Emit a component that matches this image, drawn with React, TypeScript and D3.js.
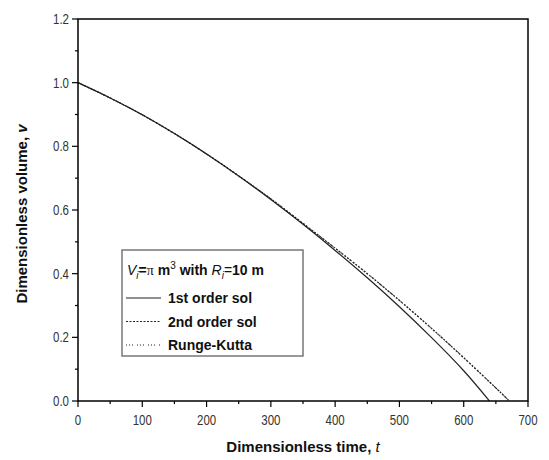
import React from "react";
import * as d3 from "d3";

const WIDTH = 549;
const HEIGHT = 460;

// values
const timeFirst = [0, 50, 100, 150, 200, 250, 300, 350, 400, 450, 500, 550, 600, 640];
const volFirst = [1.0, 0.952, 0.899, 0.84, 0.776, 0.707, 0.633, 0.555, 0.473, 0.387, 0.296, 0.199, 0.095, 0.0];

const timeSecond = [0, 50, 100, 150, 200, 250, 300, 350, 400, 450, 500, 550, 600, 650, 671];
const volSecond = [1.0, 0.952, 0.899, 0.84, 0.776, 0.707, 0.635, 0.558, 0.48, 0.4, 0.316, 0.228, 0.136, 0.041, 0.0];
const volRK = [1.0, 0.952, 0.899, 0.84, 0.776, 0.707, 0.635, 0.558, 0.48, 0.4, 0.316, 0.228, 0.136, 0.041, 0.0];

const xMajor = [0, 100, 200, 300, 400, 500, 600, 700];
const xMinor = [50, 150, 250, 350, 450, 550, 650];
const yMajor = [0, 0.2, 0.4, 0.6, 0.8, 1.0, 1.2];
const yMinor = [0.1, 0.3, 0.5, 0.7, 0.9, 1.1];

const legendLabels = ["1st order sol", "2nd order sol", "Runge-Kutta"];
const dashes = ["none", "2,1.5", "1,2,1,2,1,4"];

const margin = { left: 78, right: 21, top: 19, bottom: 59 };

export default function App() {
  const x = d3.scaleLinear().domain([0, 700]).range([margin.left, WIDTH - margin.right]);
  const y = d3.scaleLinear().domain([0, 1.2]).range([HEIGHT - margin.bottom, margin.top]);

  const line = d3
    .line<[number, number]>()
    .x((d) => x(d[0]))
    .y((d) => y(d[1]))
    .curve(d3.curveNatural);

  const series = [
    timeFirst.map((t, i) => [t, volFirst[i]] as [number, number]),
    timeSecond.map((t, i) => [t, volSecond[i]] as [number, number]),
    timeSecond.map((t, i) => [t, volRK[i]] as [number, number]),
  ];

  const x0 = x(0), x1 = x(700), y0 = y(0), y1 = y(1.2);
  const tickFont = "'Liberation Sans', Arial, sans-serif";
  const boldFont = "'Liberation Sans', Arial, sans-serif";

  const lg = { x: 122, y: 250, w: 181, h: 106 };

  return (
    <svg
      width={WIDTH}
      height={HEIGHT}
      style={{ position: "absolute", left: 0, top: 0, background: "#fff" }}
    >
      {/* curves */}
      {series.map((s, i) => (
        <path
          key={i}
          d={line(s) || ""}
          fill="none"
          stroke="#222"
          strokeWidth={1.2}
          strokeDasharray={dashes[i]}
        />
      ))}

      {/* frame */}
      <rect x={x0} y={y1} width={x1 - x0} height={y0 - y1} fill="none" stroke="#000" strokeWidth={1.5} />

      {/* x ticks */}
      {xMajor.map((t) => (
        <g key={"xm" + t}>
          <line x1={x(t)} x2={x(t)} y1={y0} y2={y0 + 6} stroke="#000" strokeWidth={1.2} />
          <text
            transform={`translate(${x(t)}, ${y0 + 24}) scale(0.82, 1)`}
            textAnchor="middle"
            fontFamily={tickFont}
            fontSize={14}
            fill="#333"
          >
            {t}
          </text>
        </g>
      ))}
      {xMinor.map((t) => (
        <line key={"xn" + t} x1={x(t)} x2={x(t)} y1={y0} y2={y0 + 3} stroke="#000" strokeWidth={1.2} />
      ))}

      {/* y ticks */}
      {yMajor.map((v) => (
        <g key={"ym" + v}>
          <line x1={x0 - 6} x2={x0} y1={y(v)} y2={y(v)} stroke="#000" strokeWidth={1.2} />
          <text
            transform={`translate(${x0 - 9}, ${y(v) + 5}) scale(0.82, 1)`}
            textAnchor="end"
            fontFamily={tickFont}
            fontSize={14}
            fill="#333"
          >
            {v.toFixed(1)}
          </text>
        </g>
      ))}
      {yMinor.map((v) => (
        <line key={"yn" + v} x1={x0 - 3} x2={x0} y1={y(v)} y2={y(v)} stroke="#000" strokeWidth={1.2} />
      ))}

      {/* axis titles */}
      <text x={(x0 + x1) / 2} y={452} textAnchor="middle" fontFamily={boldFont} fontSize={15} fontWeight="bold" fill="#111">
        Dimensionless time, <tspan fontStyle="italic" fontWeight="normal">t</tspan>
      </text>
      <text
        transform={`translate(27, ${(y0 + y1) / 2 + 4}) rotate(-90)`}
        textAnchor="middle"
        fontFamily={boldFont}
        fontSize={15}
        fontWeight="bold"
        fill="#111"
      >
        Dimensionless volume, <tspan fontStyle="italic">v</tspan>
      </text>

      {/* legend */}
      <rect x={lg.x} y={lg.y} width={lg.w} height={lg.h} fill="#fff" stroke="#777" strokeWidth={1.5} />
      <text x={lg.x + 5} y={lg.y + 25} fontFamily={boldFont} fontSize={14} fontWeight="bold" fill="#111">
        <tspan fontStyle="italic" fontWeight="normal">V</tspan>
        <tspan fontStyle="italic" fontWeight="normal" fontSize={10} dy={4}>i</tspan>
        <tspan dy={-4}>=</tspan>
        <tspan fontFamily="'Liberation Serif', serif" fontWeight="normal">π</tspan>
        <tspan> m</tspan>
        <tspan fontSize={10} fontWeight="normal" dy={-6}>3</tspan>
        <tspan dy={6}> with </tspan>
        <tspan fontStyle="italic" fontWeight="normal">R</tspan>
        <tspan fontStyle="italic" fontWeight="normal" fontSize={10} dy={4}>i</tspan>
        <tspan fontWeight="normal" dy={-4}>=</tspan>
        <tspan>10 m</tspan>
      </text>
      {legendLabels.map((lab, i) => {
        const yy = lg.y + 48 + i * 23.5;
        return (
          <g key={lab}>
            <line x1={lg.x + 4} x2={lg.x + 39} y1={yy} y2={yy} stroke="#222" strokeWidth={1.2} strokeDasharray={dashes[i]} />
            <text x={lg.x + 46} y={yy + 5} fontFamily={boldFont} fontSize={14} fontWeight="bold" fill="#111">
              {lab}
            </text>
          </g>
        );
      })}
    </svg>
  );
}
